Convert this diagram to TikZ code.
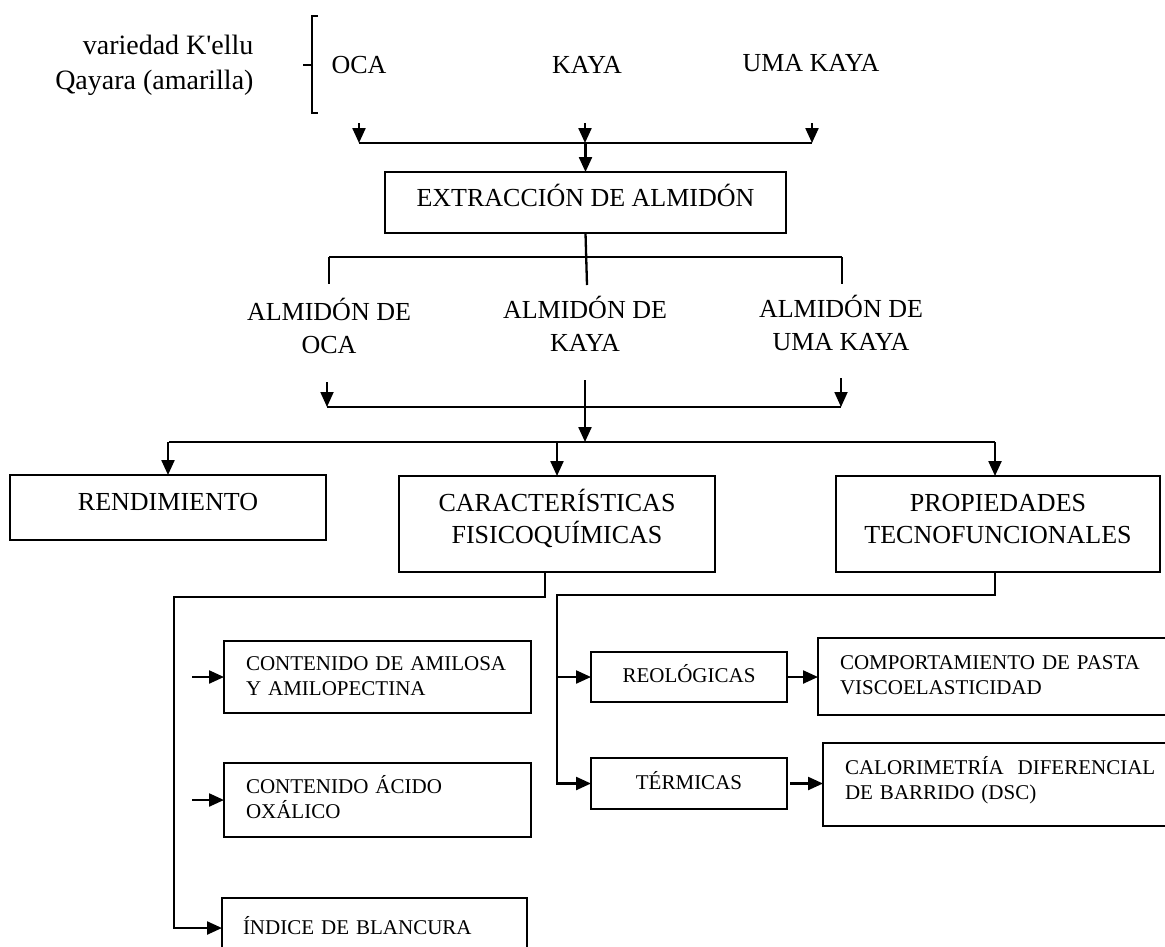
\documentclass[tikz,border=0pt]{standalone}
\usepackage{fontspec}
\setmainfont{Liberation Serif}
\usetikzlibrary{arrows.meta}

\begin{document}
\begin{tikzpicture}[x=1pt,y=-1pt,
  ln/.style={line width=2.3pt},
  arr/.style={line width=2.3pt,-{Triangle[length=15pt,width=13pt]}},
  box/.style={draw,line width=2.4pt,inner sep=0pt,outer sep=0pt},
  bigtxt/.style={font=\fontsize{26}{32}\selectfont},
  lbltxt/.style={font=\fontsize{26}{33}\selectfont,align=center,anchor=base},
  vartxt/.style={font=\fontsize{28}{35}\selectfont},
  smalltxt/.style={font=\fontsize{21}{25}\selectfont},
  leftbox/.style={box,smalltxt,anchor=north west,align=left,inner xsep=22pt},
]
% page frame
\useasboundingbox (0,0) rectangle (1165,946);
\clip (0,0) rectangle (1165,946);
\fill[white] (0,0) rectangle (1165,946);

% ---- raw materials ----
\node[vartxt,align=right,anchor=base east] (variedad) at (257,89.2)
  {variedad K\textquotesingle ellu\\Qayara (amarilla)};
\draw[ln] (318,16) -- (312,16) -- (312,113) -- (318,113);
\draw[ln] (303,65) -- (312,65);

\node[bigtxt,anchor=base] (oca)  at (359,73.5) {OCA};
\node[bigtxt,anchor=base] (kaya) at (587,73.5) {KAYA};
\node[bigtxt,anchor=base] (uma)  at (811,71.5) {UMA KAYA};

\coordinate (a1oca)  at (359,123);
\coordinate (a1kaya) at (585,123);
\coordinate (a1uma)  at (812,123);
\coordinate (b1oca)  at (359,143);
\coordinate (b1uma)  at (812,143);

\draw[arr] (a1oca) -- (b1oca);
\draw[arr] (a1kaya) -- (a1kaya |- b1oca);
\draw[arr] (a1uma) -- (b1uma);
\draw[ln] (b1oca) -- (b1uma);

% ---- extraction ----
\node[box,bigtxt,minimum width=401pt,minimum height=61pt,
      text height=22pt,text depth=14pt] (ext) at (585.5,202.5)
  {EXTRACCIÓN DE ALMIDÓN};
\draw[arr] (ext.north |- b1oca) -- (ext.north);

\coordinate (b2L) at (329,257);
\coordinate (b2R) at (842,257);
\draw[ln] (ext.south) -- ++(1.5,52);
\draw[line width=2.8pt] (b2L) -- (b2R);
\draw[ln] (b2L) -- ++(0,27);
\draw[ln] (b2R) -- ++(0,27);

\node[lbltxt] (aoca)  at (329,353.5) {ALMIDÓN DE\\OCA};
\node[lbltxt] (akaya) at (585,351.5) {ALMIDÓN DE\\KAYA};
\node[lbltxt] (auma)  at (841,350.5) {ALMIDÓN DE\\UMA KAYA};

\coordinate (a3oca)  at (327,382);
\coordinate (a3kaya) at (585,380);
\coordinate (a3uma)  at (841,378);
\coordinate (b3oca)  at (327,407);
\coordinate (b3uma)  at (841,407);
\draw[arr,line width=1.8pt] (a3oca) -- (b3oca);
\draw[arr,line width=1.8pt] (a3uma) -- (b3uma);
\draw[ln] (b3oca) -- (b3uma);

% ---- analyses ----
\coordinate (b4L) at (169,442);
\coordinate (b4R) at (995,442);
\draw[arr] (a3kaya) -- (a3kaya |- b4L);
\draw[ln] (b4L) -- (b4R);

\node[box,bigtxt,minimum width=316pt,minimum height=65pt,
      text height=22pt,text depth=16pt] (rend) at (168,507.5) {RENDIMIENTO};
\node[box,bigtxt,align=center,minimum width=316pt,minimum height=96pt,
      text height=50pt,text depth=11pt] (carac) at (557,524)
  {CARACTERÍSTICAS\\FISICOQUÍMICAS};
\node[box,bigtxt,align=center,minimum width=324pt,minimum height=96pt,
      text height=50pt,text depth=12pt] (prop) at (998,524)
  {PROPIEDADES\\TECNOFUNCIONALES};

\draw[arr] (rend.north |- b4L) -- (rend.north);
\draw[arr] (carac.north |- b4L) -- (carac.north);
\draw[arr] (b4R) -- (b4R |- prop.north);

% ---- physicochemical characteristics ----
\node[leftbox,text width=263pt,minimum height=72pt,
      text height=16pt,text depth=28.2pt] (amil) at (224,641)
  {CONTENIDO DE AMILOSA\\Y AMILOPECTINA};
\node[leftbox,text width=263pt,minimum height=74pt,
      text height=16pt,text depth=28.2pt] (acid) at (224,763)
  {CONTENIDO ÁCIDO\\OXÁLICO};
\node[leftbox,inner xsep=21pt,text width=263pt,minimum height=60pt,
      text height=18pt,text depth=4.2pt] (indice) at (222,898)
  {ÍNDICE DE BLANCURA};

\coordinate (cbr)   at (545,597);
\coordinate (cleft) at (174,597);
\draw[arr] (carac.south -| cbr) |- (cleft) |- (indice.west);

\coordinate (amilin) at (192,677);
\coordinate (acidin) at (192,800);
\draw[arr] (amilin) -- (amilin -| amil.west);
\draw[arr] (acidin) -- (acidin -| acid.west);

% ---- techno-functional properties ----
\node[box,smalltxt,minimum width=196pt,minimum height=50pt,
      text height=18pt,text depth=6.2pt] (reol) at (689,677) {REOLÓGICAS};
\node[box,smalltxt,minimum width=196pt,minimum height=51pt,
      text height=18pt,text depth=5.2pt] (term) at (689,783.5) {TÉRMICAS};
\node[leftbox,text width=323pt,minimum height=77pt,
      text height=16pt,text depth=29.2pt] (comp) at (818,638)
  {COMPORTAMIENTO DE PASTA\\VISCOELASTICIDAD};
\node[leftbox,text width=323pt,minimum height=83pt,
      text height=16pt,text depth=35.2pt] (calor) at (823,743)
  {CALORIMETRÍA~~DIFERENCIAL\\DE BARRIDO (DSC)};

\coordinate (pbr)   at (995,595);
\coordinate (pleft) at (557,595);
\draw[arr] (prop.south -| pbr) |- (pleft) |- (term.west);
\draw[arr] (pleft |- reol.west) -- (reol.west);
\draw[arr] (reol.east) -- (reol.east -| comp.west);
\draw[arr] ([xshift=3pt]term.east) -- (term.east -| calor.west);
\end{tikzpicture}
\end{document}
